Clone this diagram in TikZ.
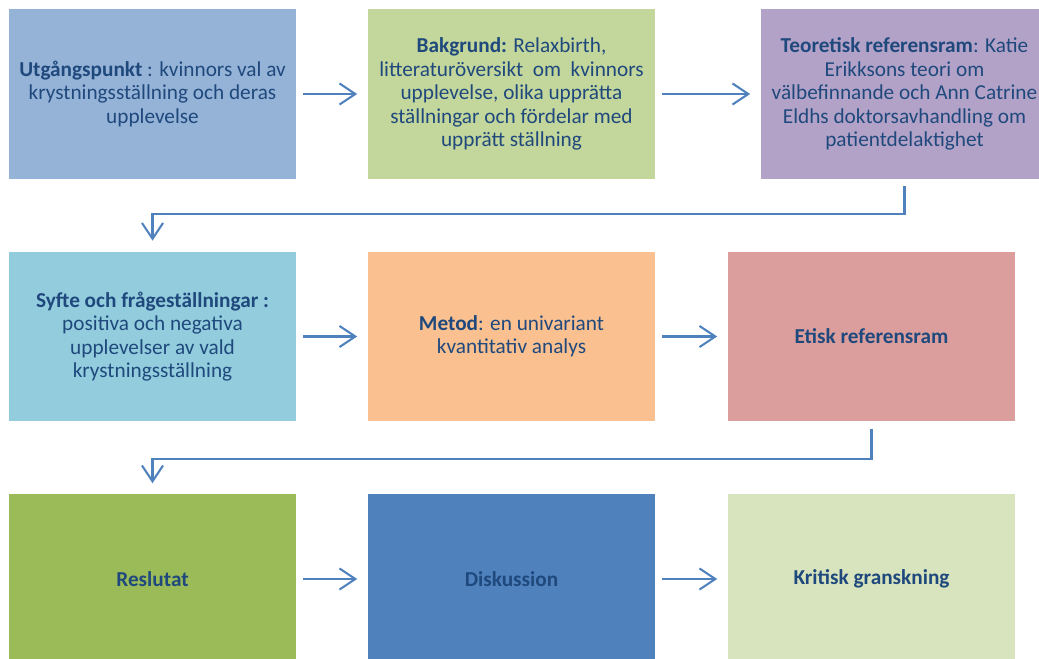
\documentclass[tikz,border=0pt]{standalone}
\usepackage{fontspec}
\setmainfont{Carlito}
\usetikzlibrary{arrows.meta}

\definecolor{txtblue}{HTML}{1F497D}
\definecolor{arrowblue}{HTML}{4F81BD}
\definecolor{fillA}{HTML}{95B3D7}
\definecolor{fillB}{HTML}{C3D69B}
\definecolor{fillC}{HTML}{B3A2C7}
\definecolor{fillD}{HTML}{93CDDD}
\definecolor{fillE}{HTML}{FAC090}
\definecolor{fillF}{HTML}{DB9E9D}
\definecolor{fillG}{HTML}{9BBB59}
\definecolor{fillH}{HTML}{4F81BD}
\definecolor{fillI}{HTML}{D7E4BD}

\begin{document}
\begin{tikzpicture}[x=0.02cm, y=-0.02cm,
  box/.style={minimum width=5.74cm, minimum height=3.4cm, inner sep=0pt,
    align=center, text=txtblue, font=\fontsize{12.1}{13.3}\selectfont},
  flow/.style={draw=arrowblue, line width=1.15pt,
    -{Straight Barb[length=9pt, width=12pt]},
    shorten <=4pt, shorten >=6pt}]

\clip (0,0) rectangle (1039,659);

\node[box, fill=fillA] (start) at (152.5, 94) {\textbf{Utgångspunkt} : kvinnors val av\\krystningsställning och deras\\upplevelse};
\node[box, fill=fillB] (bakgrund) at (511.5, 94) {\textbf{Bakgrund:} Relaxbirth,\\litteraturöversikt\ \ om\ \ kvinnors\\upplevelse, olika upprätta\\ställningar och fördelar med\\upprätt ställning};
\node[box, fill=fillC] (teori) at (904.5, 94) {\textbf{Teoretisk referensram}: Katie\\Erikksons teori om\\välbefinnande och Ann Catrine\\Eldhs doktorsavhandling om\\patientdelaktighet};

\node[box, fill=fillD] (syfte) at (152.5, 336.5) {\textbf{Syfte och frågeställningar :}\\positiva och negativa\\upplevelser av vald\\krystningsställning};
\node[box, fill=fillE] (metod) at (511.5, 336.5) {\textbf{Metod}: en univariant\\kvantitativ analys};
\node[box, fill=fillF] (etik) at (871.5, 336.5) {\textbf{Etisk referensram}};

\node[box, fill=fillG] (resultat) at (152.5, 579) {\textbf{Reslutat}};
\node[box, fill=fillH] (diskussion) at (511.5, 579) {\textbf{Diskussion}};
\node[box, fill=fillI] (kritik) at (871.5, 579) {\textbf{Kritisk granskning}};

\draw[flow] (start) -- (bakgrund);
\draw[flow] (bakgrund) -- (teori);
\draw[flow] (teori.south) -- ++(0,35) -| (syfte.north);

\draw[flow] (syfte) -- (metod);
\draw[flow] (metod) -- (etik);
\draw[flow] (etik.south) -- ++(0,37) -| (resultat.north);

\draw[flow] (resultat) -- (diskussion);
\draw[flow] (diskussion) -- (kritik);

\end{tikzpicture}
\end{document}
